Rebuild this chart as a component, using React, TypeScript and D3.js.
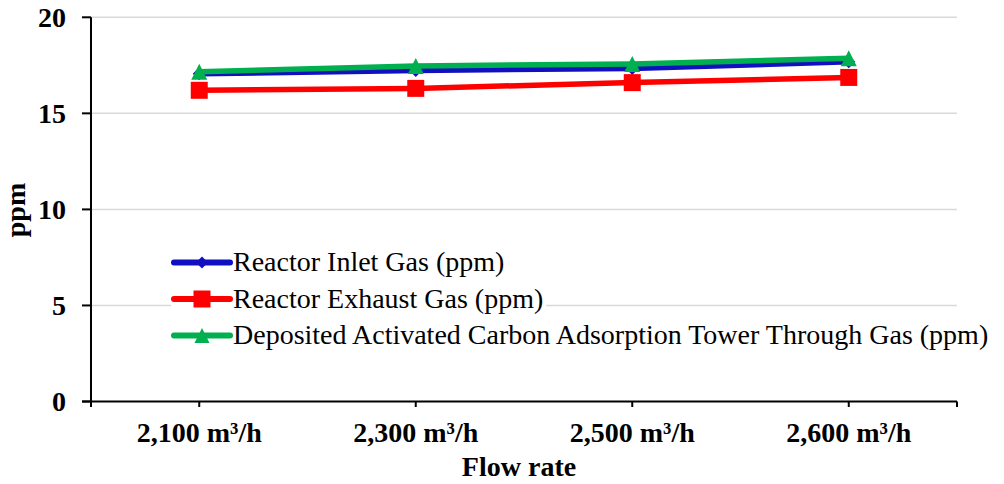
import { useRef, useEffect } from 'react'
import * as d3 from 'd3'

const categories = ['2,100 m³/h', '2,300 m³/h', '2,500 m³/h', '2,600 m³/h']
const inletGas = [17.06, 17.23, 17.34, 17.68]
const exhaustGas = [16.2, 16.3, 16.6, 16.87]
const towerGas = [17.17, 17.47, 17.57, 17.87]
const yTicks = [0, 5, 10, 15, 20]
const seriesNames = [
  'Reactor Inlet Gas (ppm)',
  'Reactor Exhaust Gas (ppm)',
  'Deposited Activated Carbon Adsorption Tower Through Gas (ppm)',
]
const seriesColors = ['#1010C0', '#FF0000', '#00B050']
const seriesShapes = ['diamond', 'square', 'triangle']

const FONT = '"Liberation Serif", "Times New Roman", serif'

// marker path centred on 0,0
const markerPath = (shape: string, s: number) => {
  const h = s / 2
  if (shape === 'square') return `M${-h},${-h}H${h}V${h}H${-h}Z`
  if (shape === 'diamond') return `M0,${-h}L${h},0L0,${h}L${-h},0Z`
  return `M0,${-h}L${h},${h}L${-h},${h}Z`
}

const markerSize: Record<string, number> = { diamond: 13, square: 17, triangle: 16 }

const App = () => {
  const ref = useRef<SVGSVGElement>(null)

  useEffect(() => {
    if (!ref.current) return
    const width = 1004
    const height = 484
    const left = 91
    const right = 957
    const top = 17.3
    const bottom = 401.5

    const svg = d3.select(ref.current)
    svg.selectAll('*').remove()
    svg.attr('width', width).attr('height', height)

    const x = d3.scalePoint<string>().domain(categories).range([left, right]).padding(0.5)
    const y = d3.scaleLinear().domain([0, 20]).range([bottom, top])

    // gridlines
    svg
      .append('g')
      .selectAll('line')
      .data(yTicks.filter((d) => d > 0))
      .enter()
      .append('line')
      .attr('x1', left)
      .attr('x2', right)
      .attr('y1', (d) => y(d))
      .attr('y2', (d) => y(d))
      .attr('stroke', '#d9d9d9')
      .attr('stroke-width', 1.5)

    // axes
    const axes = svg.append('g').attr('stroke', '#000').attr('stroke-width', 2)
    axes.append('line').attr('x1', left).attr('x2', left).attr('y1', top).attr('y2', bottom)
    axes.append('line').attr('x1', left - 9).attr('x2', right).attr('y1', bottom).attr('y2', bottom)
    axes
      .selectAll('.yt')
      .data(yTicks)
      .enter()
      .append('line')
      .attr('x1', left - 9)
      .attr('x2', left)
      .attr('y1', (d) => y(d))
      .attr('y2', (d) => y(d))
    const xTickPos = [left, ...categories.map((c) => x(c) as number), right]
    axes
      .selectAll('.xt')
      .data(xTickPos)
      .enter()
      .append('line')
      .attr('x1', (d) => d)
      .attr('x2', (d) => d)
      .attr('y1', bottom)
      .attr('y2', bottom + 5.5)

    // tick labels
    svg
      .append('g')
      .selectAll('text')
      .data(yTicks)
      .enter()
      .append('text')
      .attr('x', 66)
      .attr('y', (d) => y(d) + 9.5)
      .attr('text-anchor', 'end')
      .attr('font-family', FONT)
      .attr('font-weight', 'bold')
      .attr('font-size', 28)
      .text((d) => d)

    svg
      .append('g')
      .selectAll('text')
      .data(categories)
      .enter()
      .append('text')
      .attr('x', (d) => x(d) as number)
      .attr('y', 442)
      .attr('text-anchor', 'middle')
      .attr('font-family', FONT)
      .attr('font-weight', 'bold')
      .attr('font-size', 28)
      .text((d) => d)

    svg
      .append('text')
      .attr('x', 519)
      .attr('y', 476)
      .attr('text-anchor', 'middle')
      .attr('font-family', FONT)
      .attr('font-weight', 'bold')
      .attr('font-size', 28)
      .text('Flow rate')

    svg
      .append('text')
      .attr('transform', 'translate(25,210) rotate(-90)')
      .attr('text-anchor', 'middle')
      .attr('font-family', FONT)
      .attr('font-weight', 'bold')
      .attr('font-size', 28)
      .text('ppm')

    // series
    const allSeries = [inletGas, exhaustGas, towerGas]
    const line = d3
      .line<number>()
      .x((_, i) => x(categories[i]) as number)
      .y((d) => y(d))

    allSeries.forEach((values, si) => {
      const g = svg.append('g')
      g.append('path')
        .attr('d', line(values) as string)
        .attr('fill', 'none')
        .attr('stroke', seriesColors[si])
        .attr('stroke-width', 5.5)
        .attr('stroke-linejoin', 'round')
        .attr('stroke-linecap', 'round')
      g.selectAll('path.m')
        .data(values)
        .enter()
        .append('path')
        .attr('class', 'm')
        .attr('d', markerPath(seriesShapes[si], markerSize[seriesShapes[si]]))
        .attr('transform', (d, i) => `translate(${x(categories[i])},${y(d)})`)
        .attr('fill', seriesColors[si])
    })

    // legend
    const legendX = 174
    const legendRows = [262.5, 299, 335.5]
    seriesNames.forEach((name, si) => {
      const g = svg.append('g')
      const bg = g.append('rect').attr('fill', '#fff')
      g.append('line')
        .attr('x1', legendX)
        .attr('x2', legendX + 56)
        .attr('y1', legendRows[si])
        .attr('y2', legendRows[si])
        .attr('stroke', seriesColors[si])
        .attr('stroke-width', 6)
        .attr('stroke-linecap', 'round')
      g.append('path')
        .attr('d', markerPath(seriesShapes[si], si === 2 ? 15 : si === 1 ? 17 : 12))
        .attr('transform', `translate(${legendX + 28},${legendRows[si]})`)
        .attr('fill', seriesColors[si])
      const t = g
        .append('text')
        .attr('x', 233)
        .attr('y', legendRows[si] + 8.5)
        .attr('font-family', FONT)
        .attr('font-size', 28)
        .attr('fill', '#000')
        .text(name)
      const w = (t.node() as SVGTextElement).getComputedTextLength()
      bg.attr('x', legendX - 3)
        .attr('y', legendRows[si] - 16)
        .attr('width', 233 + w - legendX + 6)
        .attr('height', 32)
    })
  }, [])

  return (
    <div style={{ position: 'absolute', left: 0, top: 0 }}>
      <svg ref={ref} style={{ display: 'block', background: '#fff' }} />
    </div>
  )
}

export default App
